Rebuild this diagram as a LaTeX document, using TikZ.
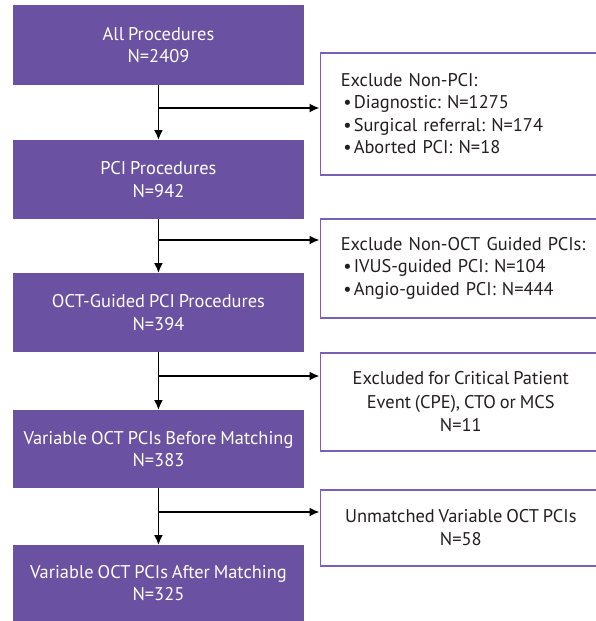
\documentclass[tikz,border=0pt]{standalone}
\usepackage{fontspec}
\setmainfont{PT Sans}[WordSpace=0.8]
\usetikzlibrary{arrows.meta,calc}
\definecolor{flowpurple}{HTML}{6B51A1}
\definecolor{edgepurple}{HTML}{7A60B4}
\definecolor{ink}{HTML}{231F20}
\newcommand{\bitem}[1]{\hspace*{2.5pt}\makebox[10.5pt][l]{\textbullet}#1}
\begin{document}
\frenchspacing
\begin{tikzpicture}[x=1pt,y=-1pt,
  stage/.style={fill=flowpurple, draw=none, text=white, anchor=north west,
    minimum width=291.5pt, inner sep=0pt, align=center,
    font=\fontsize{18.4}{22.5}\selectfont},
  exclleft/.style={draw=edgepurple, line width=1.6pt, fill=white, text=ink,
    anchor=north west, text width=250pt, inner xsep=20.5pt, inner ysep=0pt,
    align=left, font=\fontsize{18.4}{22.5}\selectfont},
  exclmid/.style={draw=edgepurple, line width=1.6pt, fill=white, text=ink,
    anchor=north west, minimum width=281pt, inner sep=0pt,
    align=center, font=\fontsize{18.4}{23.5}\selectfont},
  flowarrow/.style={draw=black, line width=1.7pt,
    -{Latex[length=10pt,width=9pt]}}]
\useasboundingbox (0,0) rectangle (596,621);
\clip (0,0) rectangle (596,621);

% main stages of the cohort
\node[stage, minimum height=80pt] (b1) at (12.5,5) {All Procedures\\N=2409};
\node[stage, minimum height=79pt] (b2) at (12.5,140) {PCI Procedures\\N=942};
\node[stage, minimum height=79pt] (b3) at (12.5,273) {OCT-Guided PCI Procedures\\N=394};
\node[stage, minimum height=78pt] (b4) at (12.5,410) {Variable OCT PCIs Before Matching\\N=383};
\node[stage, minimum height=76pt] (b5) at (12.5,545) {Variable OCT PCIs After Matching\\N=325};

% exclusion boxes
\node[exclleft, minimum height=122pt] (exA) at (319.5,52) {Exclude Non-PCI:\\
  \bitem{Diagnostic: N=1275}\\
  \bitem{Surgical referral: N=174}\\
  \bitem{Aborted PCI: N=18}};
\node[exclleft, minimum height=99pt] (exB) at (319.5,218) {Exclude Non-OCT Guided PCIs:\\
  \bitem{IVUS-guided PCI: N=104}\\
  \bitem{Angio-guided PCI: N=444}};
\node[exclmid, minimum height=98pt] (exC) at (319.5,352) {Excluded for Critical Patient\\Event (CPE), CTO or MCS\\N=11};
\node[exclmid, minimum height=76pt] (exD) at (319.5,489) {Unmatched Variable OCT PCIs\\N=58};

% branch points on the main flow
\coordinate (j1) at (b1.south |- 0,108);
\coordinate (j2) at (b2.south |- 0,240);
\coordinate (j3) at (b3.south |- 0,376);
\coordinate (j4) at (b4.south |- 0,512);

% connectors
\draw[flowarrow] (b1.south) -- (b2.north);
\draw[flowarrow] (b2.south) -- (b3.north);
\draw[flowarrow] (b3.south) -- (b4.north);
\draw[flowarrow] (b4.south) -- (b5.north);
\draw[flowarrow] (j1) -- (j1 -| exA.west);
\draw[flowarrow] (j2) -- (j2 -| exB.west);
\draw[flowarrow] (j3) -- (j3 -| exC.west);
\draw[flowarrow] (j4) -- (j4 -| exD.west);
\end{tikzpicture}
\end{document}
